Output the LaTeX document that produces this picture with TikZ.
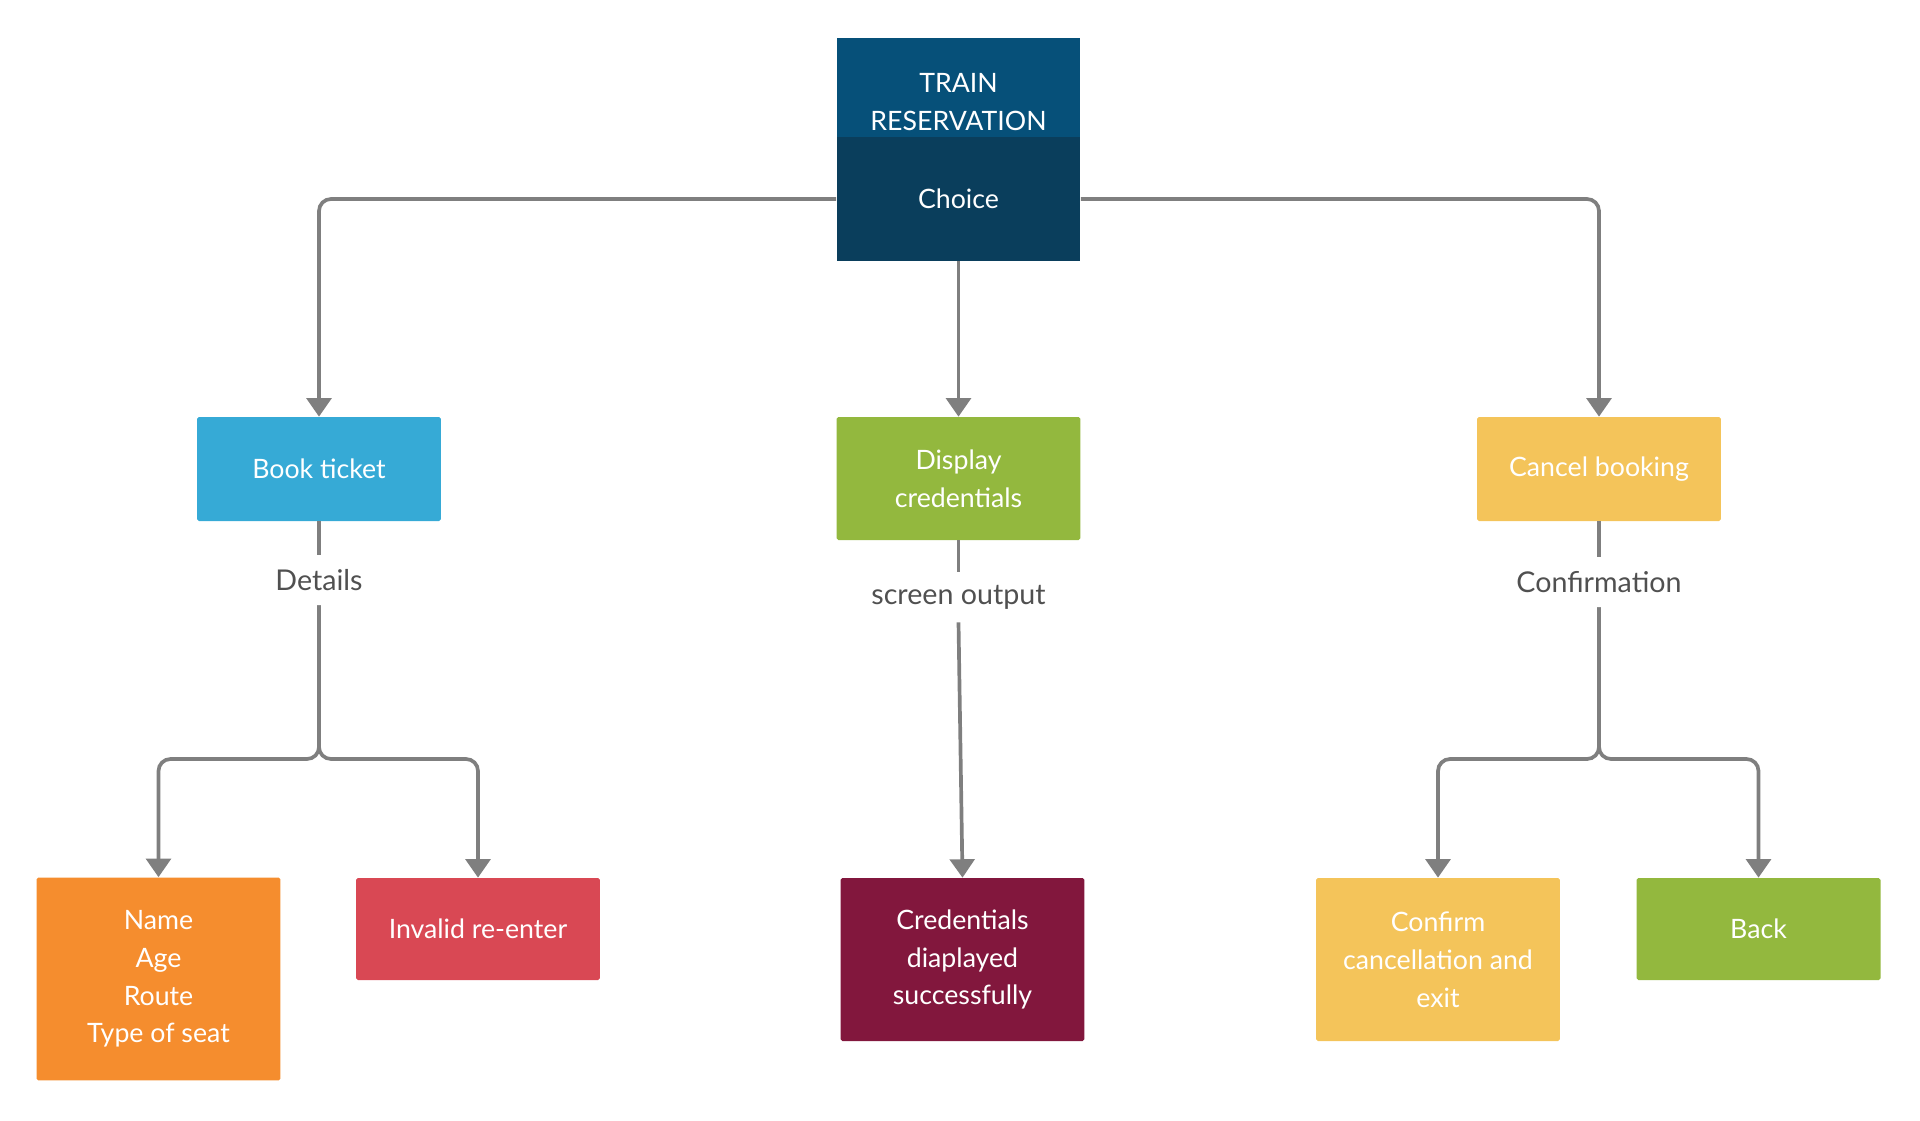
\documentclass[tikz,border=0pt]{standalone}
\usepackage{fontspec}
\setmainfont{Lato}
\usetikzlibrary{arrows.meta}

\definecolor{titleblue}{HTML}{065079}
\definecolor{choiceblue}{HTML}{0A3E5C}
\definecolor{bookblue}{HTML}{36AAD6}
\definecolor{leafgreen}{HTML}{93B83E}
\definecolor{cancelyellow}{HTML}{F4C45A}
\definecolor{nameorange}{HTML}{F58D2E}
\definecolor{invalidred}{HTML}{D94854}
\definecolor{credred}{HTML}{82173D}
\definecolor{linegray}{HTML}{7F7F7F}
\definecolor{labelgray}{HTML}{505050}

\tikzset{
  box/.style={rectangle, rounded corners=1pt, text=white, align=center,
    minimum width=4.88cm, inner sep=0pt,
    font=\fontsize{15.2}{21.5}\selectfont},
  lbl/.style={inner sep=0pt, minimum height=1cm, text=labelgray,
    font=\fontsize{16.3}{21.6}\selectfont},
  conn/.style={draw=linegray, line width=2.1pt, rounded corners=0.24cm},
  tip/.style={-{Triangle[width=14pt,length=10.5pt]}}
}

\begin{document}
\begin{tikzpicture}[x=0.02cm, y=-0.02cm]
\useasboundingbox (0,0) rectangle (1920,1120);

% top
\node[box, fill=titleblue, rounded corners=0pt, minimum height=2cm,
  label={[box, minimum width=0pt, yshift=-0.29cm]center:TRAIN\\RESERVATION}] (title) at (958.5,87.5) {};
\node[box, fill=choiceblue, rounded corners=0pt, minimum height=2.48cm] (choice) at (958.5,199) {Choice};

% second row
\node[box, fill=bookblue, minimum height=2.08cm] (book) at (319,469) {Book ticket};
\node[box, fill=leafgreen, minimum height=2.46cm] (disp) at (958.5,478.5) {Display\\credentials};
\node[box, fill=cancelyellow, minimum height=2.08cm] (cancel) at (1599,469) {Cancel booking};

% bottom row
\node[box, fill=nameorange, minimum height=4.06cm] (name) at (158.5,979) {Name\\Age\\Route\\Type of seat};
\node[box, fill=invalidred, minimum height=2.04cm] (invalid) at (478,929) {Invalid re-enter};
\node[box, fill=credred, minimum height=3.26cm] (cred) at (962.5,959.5) {Credentials\\diaplayed\\successfully};
\node[box, fill=cancelyellow, minimum height=3.26cm] (confirm) at (1438,959.5) {Confirm\\cancellation and\\exit};
\node[box, fill=leafgreen, minimum height=2.04cm] (back) at (1758.5,929) {Back};

% labels on the lines
\node[lbl] (details) at (319,580) {Details};
\node[lbl] (screen) at (958.5,597) {screen output};
\node[lbl] (confirmation) at (1599,582) {Confirmation};

\coordinate (bookbus) at (319,759);
\coordinate (cancelbus) at (1599,759);

% connectors
\draw[conn, tip] (choice.west) -| (book.north);
\draw[conn, tip] (choice.east) -| (cancel.north);
\draw[conn, tip] (choice.south) -- (disp.north);

\draw[conn] (book.south) -- (details.north);
\draw[conn, tip] (details.south) -- (bookbus) -| (name.north);
\draw[conn, tip] (details.south) -- (bookbus) -| (invalid.north);

\draw[conn] (disp.south) -- (screen.north);
\draw[conn, tip] (screen.south) -- (cred.north);

\draw[conn] (cancel.south) -- (confirmation.north);
\draw[conn, tip] (confirmation.south) -- (cancelbus) -| (confirm.north);
\draw[conn, tip] (confirmation.south) -- (cancelbus) -| (back.north);

\end{tikzpicture}
\end{document}
